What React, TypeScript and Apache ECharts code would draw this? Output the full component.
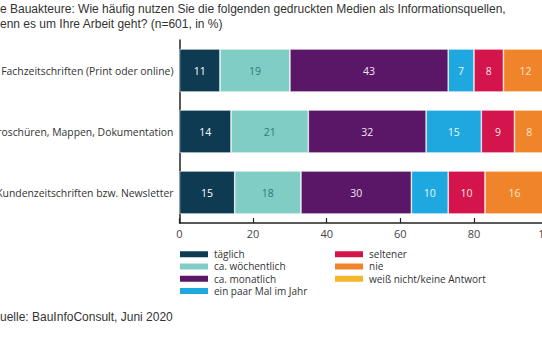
import React, { useEffect, useRef } from "react";
import * as echarts from "echarts";

const categories = [
  "Fachzeitschriften (Print oder online)",
  "Broschüren, Mappen, Dokumentation",
  "Kundenzeitschriften bzw. Newsletter",
];
const seriesNames = [
  "täglich",
  "ca. wöchentlich",
  "ca. monatlich",
  "ein paar Mal im Jahr",
  "seltener",
  "nie",
  "weiß nicht/keine Antwort",
];
const taeglich = [11, 14, 15];
const woechentlich = [19, 21, 18];
const monatlich = [43, 32, 30];
const paarMal = [7, 15, 10];
const seltener = [8, 9, 10];
const nie = [12, 8, 16];
const weissNicht = [0, 1, 1];
const xTicks = [0, 20, 40, 60, 80, 100];
const titleLines = [
  "e Bauakteure: Wie häufig nutzen Sie die folgenden gedruckten Medien als Informationsquellen,",
  "enn es um Ihre Arbeit geht? (n=601, in %)",
];
const sourceText = "uelle: BauInfoConsult, Juni 2020";

const colors = ["#0f3b52", "#7fcdc5", "#5b1767", "#1fa8e0", "#d3154b", "#f0842b", "#f7b52c"];
const labelColors = ["#ffffff", "#2e7a78", "#f1e4f1", "#e8f6fc", "#fbe4ea", "#fde6c8", "#ffffff"];

export default function App() {
  const ref = useRef<HTMLDivElement>(null);
  useEffect(() => {
    if (!ref.current) return;
    const chart = echarts.init(ref.current, null, { renderer: "svg" });
    const values = [taeglich, woechentlich, monatlich, paarMal, seltener, nie, weissNicht];
    const font = "'Open Sans', sans-serif";
    const legendBase = {
      orient: "vertical",
      top: 243,
      padding: 5,
      itemWidth: 30,
      itemHeight: 8,
      itemGap: 0,
      icon: "rect",
      textStyle: { color: "#333", fontSize: 10, fontFamily: font, lineHeight: 12.3, height: 12.3 },
    };
    chart.setOption({
      animation: false,
      backgroundColor: "#ffffff",
      grid: {
        left: 179.5,
        right: -5.6,
        top: 40,
        bottom: 117,
        containLabel: false,
        outerBoundsMode: "none",
      },
      xAxis: {
        type: "value",
        min: xTicks[0],
        max: xTicks[xTicks.length - 1],
        interval: xTicks[1] - xTicks[0],
        axisLine: { show: true, lineStyle: { color: "#222", width: 1.5 } },
        axisTick: { show: true, inside: true, length: 5, lineStyle: { color: "#222", width: 1.2 } },
        splitLine: { show: false },
        axisLabel: { color: "#444", fontSize: 11, fontFamily: font, margin: 5, showMaxLabel: true },
      },
      yAxis: {
        type: "category",
        inverse: true,
        data: categories,
        axisLine: { show: true, lineStyle: { color: "#222", width: 1.5 } },
        axisTick: { show: false },
        axisLabel: { color: "#333", fontSize: 10.4, fontFamily: font, margin: 6 },
      },
      legend: [
        { ...legendBase, left: 173, data: seriesNames.slice(0, 4) },
        { ...legendBase, left: 328, data: seriesNames.slice(4) },
      ],
      series: seriesNames.map((name, i) => ({
        name,
        type: "bar",
        stack: "total",
        barWidth: 43,
        data: values[i],
        itemStyle: { color: colors[i], borderColor: "#ffffff", borderWidth: 0.6 },
        label: {
          show: true,
          position: "inside",
          color: labelColors[i],
          fontSize: 10.5,
          fontFamily: font,
          formatter: (p: any) => (p.value > 0 ? String(p.value) : ""),
        },
      })),
      graphic: [
        {
          type: "text",
          left: 0,
          top: 3,
          style: {
            text: titleLines[0],
            fill: "#333",
            font: "12px 'Liberation Sans', Arial, sans-serif",
          },
        },
        {
          type: "text",
          left: 0,
          top: 18,
          style: {
            text: titleLines[1],
            fill: "#333",
            font: "12px 'Liberation Sans', Arial, sans-serif",
          },
        },
        {
          type: "text",
          left: 0,
          top: 311,
          style: {
            text: sourceText,
            fill: "#333",
            font: "12px 'Liberation Sans', Arial, sans-serif",
          },
        },
      ],
    });
    return () => chart.dispose();
  }, []);
  return <div ref={ref} style={{ width: 542, height: 340, position: "absolute", left: 0, top: 0 }} />;
}
